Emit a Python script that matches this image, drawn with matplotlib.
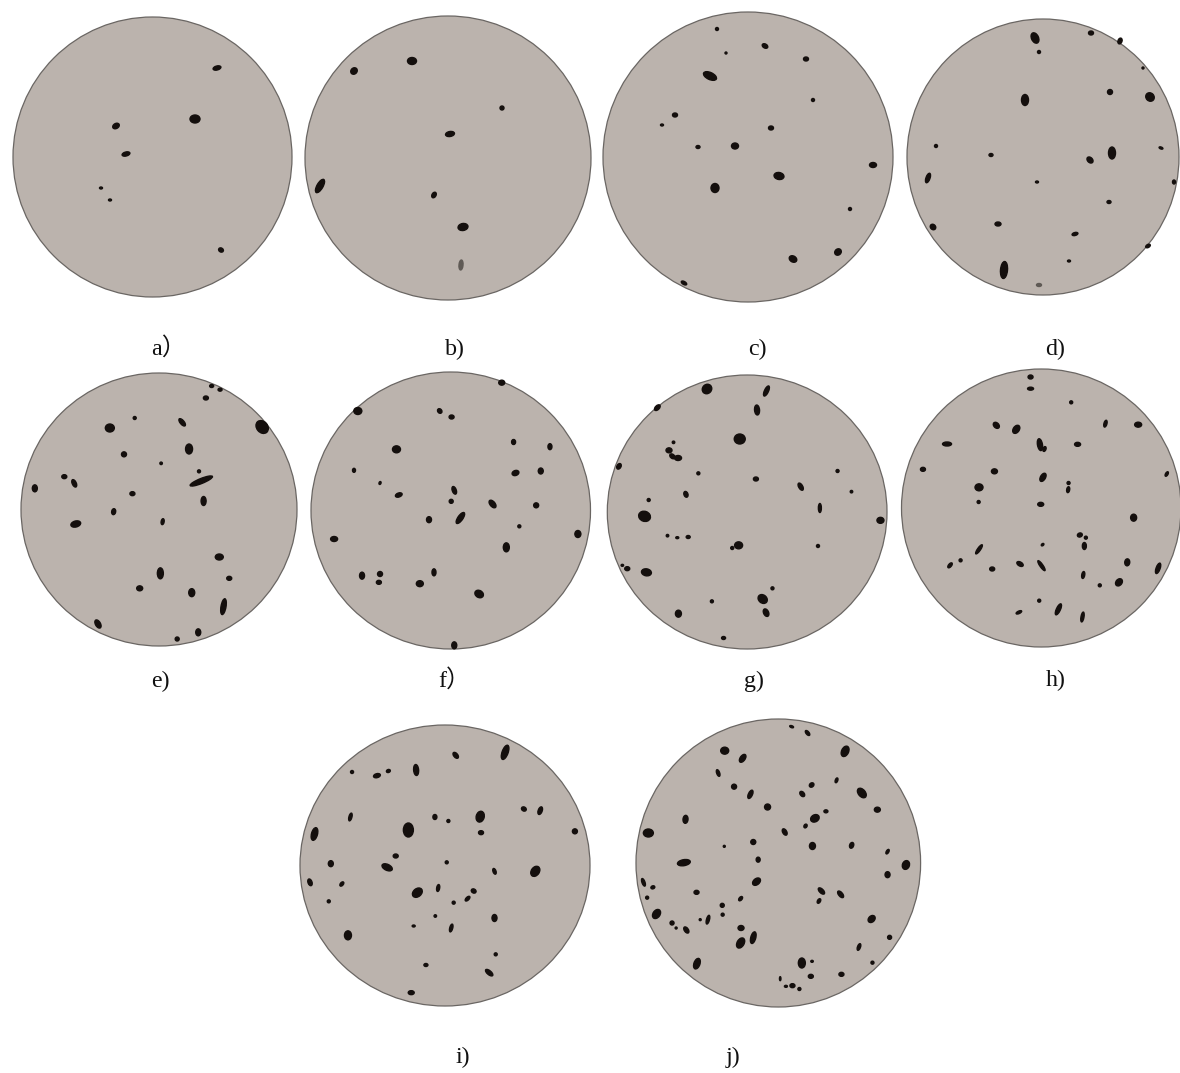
import matplotlib
matplotlib.use("Agg")
import matplotlib.pyplot as plt
from matplotlib.patches import Ellipse

W, H = 1180, 1073
panel_names = ["a）", "b)", "c)", "d)", "e)", "f）", "g)", "h)", "i)", "j)"]
label_xy = [(168, 355), (455, 355), (757, 355), (1055, 355), (160, 687),
            (454, 687), (754, 687), (1056, 686), (463, 1063), (733, 1063)]
disc_bounds = [(13, 292, 17, 297), (305, 591, 16, 300), (603, 893, 12, 302), (907, 1179, 19, 295),
               (21, 297, 373, 646), (311, 590.5, 372, 649), (607.3, 887, 375, 649), (901.5, 1181, 369, 647),
               (300, 590, 725, 1006), (636, 920.6, 719, 1007)]

# spots: x, y, long axis, short axis, angle (degrees counter-clockwise on screen)
a_spots = [(217,68,8,4,15),(116,126,7,5,30),(195,119,10,8,0),(126,154,8,4,15),(101,188,3,2,0),
           (110,200,3,2,0),(221,250,5,4,-30)]
b_spots = [(354,71,7,6,45),(412,61,9,7,0),(502,108,4,4,0),(450,134,9,5,10),(320,186,15,6,60),
           (434,195,6,4,60),(463,227,10,7,10),(461,265,10,4,85)]
c_spots = [(717,29,3,3,0),(765,46,6,4,-30),(806,59,5,4,0),(726,53,2,2,0),(710,76,14,7,-25),(813,100,3,3,0),
           (675,115,5,4,0),(662,125,3,2,0),(771,128,5,4,0),(698,147,4,3,0),(735,146,7,6,0),(779,176,10,7,-10),
           (873,165,7,5,0),(715,188,9,8,90),(850,209,3,3,0),(793,259,8,6,-30),(838,252,7,6,40),(684,283,6,3,-30)]
d_spots = [(1035,38,11,7,-65),(1091,33,5,4,0),(1120,41,6,4,70),(1039,52,3,3,0),(1025,100,11,7,90),(1110,92,5,5,0),
           (1150,97,9,8,-45),(1143,68,2,2,0),(936,146,3,3,0),(991,155,4,3,0),(1090,160,7,5,-45),(1112,153,12,7,90),
           (1161,148,4,2,-20),(928,178,10,4,70),(1037,182,3,2,0),(1174,182,4,3,90),(1109,202,4,3,0),(998,224,6,4,0),
           (933,227,6,5,-45),(1075,234,6,3,15),(1148,246,5,3,30),(1004,270,17,7,85),(1069,261,3,2,0),(1039,285,5,3,0)]
e_spots = [(553,78,4,3,0),(575,89,4,3,0),(538,114,5,4,0),(352,174,3,3,0),(287,204,9,8,0),(476,187,9,4,-50),
           (685,201,14,11,-50),(324,283,5,5,0),(494,267,10,7,90),(421,310,2.5,2.5,0),(520,334,3,3,0),(168,350,5,4,0),
           (194,370,8,4,-65),(91,385,7,5,90),(526,363,24,5,22),(346,401,5,4,0),(532,423,9,5,90),(297,455,6,4,80),
           (198,492,10,6,15),(425,485,6,3,80),(573,591,8,6,0),(419,640,11,6,90),(599,655,5,4,0),(365,685,6,5,0),
           (501,698,8,6,90),(584,740,16,5,80),(256,792,9,5,-60),(518,817,7,5,90),(463,837,4,4,0)]
f_spots = [(1311,68,6,5,0),(935,153,8,7,0),(1149,153,5,4,-50),(1180,171,5,4,0),(1342,246,5,4,90),(1437,260,6,4,90),
           (1036,268,8,7,0),(925,331,4,3,90),(1347,339,7,5,20),(1413,333,6,5,90),(993,369,3,2,70),(1187,391,8,4,-70),
           (1042,405,7,4,20),(1179,424,4,4,0),(1287,432,9,5,-50),(1401,436,5,5,0),(1121,479,6,5,90),(1203,474,13,5,55),
           (1357,499,3,3,0),(1510,522,7,6,90),(873,537,7,5,0),(1323,562,9,6,90),(1134,637,7,4,90),(946,647,7,5,90),
           (993,642,5,5,0),(990,667,5,4,0),(1097,671,7,6,0),(1252,702,9,7,-30),(1187,856,7,5,90)]
g_spots = [(311,87,10,9,45),(469,93,11,4,65),(179,143,7,4,45),(444,150,10,5,95),(398,237,11,10,0),(222,247,2.5,2.5,0),
           (210,271,6,5,0),(219,289,6,4,-40),(234,294,7,5,0),(77,319,6,4,60),(288,340,3,3,0),(441,357,5,4,0),
           (658,333,3,3,0),(560,380,8,4,-60),(695,395,2.5,2.5,0),(255,403,6,4,-70),(156,420,3,3,0),(611,444,9,3,90),
           (145,469,12,10,-20),(772,481,7,6,0),(206,527,2.5,2.5,0),(232,533,3,2,0),(261,531,4,3,0),(395,556,8,7,0),
           (378,564,3,3,0),(606,558,3,3,0),(86,616,2.5,2,0),(99,626,5,4,0),(150,637,10,7,-10),(485,685,3,3,0),
           (459,717,10,8,-40),(324,724,3,3,0),(468,758,8,5,-65),(235,761,7,6,90),(355,834,4,3,0)]
h_spots = [(1171,51,5,4,0),(1171,86,6,3,0),(1279,127,3,3,0),(1080,196,7,5,-45),(1133,208,9,6,55),(1370,191,7,3,75),
           (1457,194,7,5,0),(949,252,9,4,0),(1196,254,12,5,-80),(1208,267,5,3,70),(1296,253,6,4,0),(885,328,5,4,0),
           (1075,334,6,5,0),(1204,352,9,5,60),(1533,342,5,2.5,60),(1034,382,8,7,0),(1272,369,3,3,0),(1271,389,6,3,80),
           (1033,426,3,3,0),(1198,433,6,4,0),(1445,473,7,6,90),(1302,525,5,4,20),(1318,533,3,3,0),(1314,558,7,4,90),
           (1203,554,3,2,40),(1034,568,11,3,55),(985,601,3,3,0),(957,616,6,3,50),(1069,627,5,4,0),(1143,612,7,4,-30),
           (1200,617,12,3,-55),(1428,607,7,5,85),(1510,625,11,4,70),(1311,645,7,3,80),(1355,676,3,3,0),(1406,667,8,6,50),
           (1194,722,3,3,0),(1245,748,12,4,65),(1140,757,6,2.5,25),(1309,771,10,3,80)]
i_spots = [(152,186,3,3,0),(213,197,7,4,15),(241,183,4,3,20),(309,180,11,5,95),(406,136,7,4,-50),(527,127,15,6,70),
           (148,321,8,3,75),(355,321,5,4,90),(388,333,3,3,0),(466,320,11,8,75),(573,297,5,4,-30),(613,302,8,4,70),
           (290,360,14,10,90),(468,368,5,4,0),(60,372,13,6,75),(698,364,5,5,0),(259,438,5,4,0),(100,461,6,5,90),
           (238,472,11,6,-25),(384,457,3,3,0),(501,484,6,3,-70),(601,484,11,8,55),(49,517,7,4,-70),(127,522,5,3,50),
           (363,534,7,3,80),(312,548,11,8,40),(450,543,5,4,-30),(435,566,6,3,45),(401,578,3,3,0),(95,574,3,3,0),
           (356,618,2.5,2.5,0),(303,648,3,2,0),(395,654,8,3,75),(501,624,7,5,90),(142,676,9,7,90),(504,733,3,3,0),
           (333,765,4,3,0),(488,788,9,4,-40),(297,848,6,4,0)]
j_spots = [(1229,50,4,2,-20),(1268,69,6,3,-50),(1065,122,8,7,0),(1109,145,9,5,55),(1360,124,11,7,65),(1049,189,7,3,-70),
           (1088,230,5,5,0),(1128,253,9,4,65),(1278,225,5,4,40),(1339,211,5,2.5,70),(1255,252,6,4,-50),(1401,249,11,7,-50),
           (1170,291,6,6,0),(1439,299,6,5,0),(1313,304,4,3,0),(1286,325,9,7,30),(969,328,8,5,85),(1263,348,4,3,60),
           (878,369,10,8,0),(1212,366,7,4,-60),(1135,396,5,5,0),(1280,408,7,6,90),(1376,406,6,4,70),(1064,409,2,2,0),
           (1464,425,5,2.5,60),(965,458,13,6,10),(1147,449,5,4,90),(1509,465,9,7,70),(1464,494,6,5,90),(866,517,8,3,-70),
           (889,532,4,3,20),(1143,515,9,6,40),(996,547,5,4,0),(1302,543,8,4,-45),(1349,553,8,4,-50),(875,563,3,3,0),
           (1104,566,5,3,50),(1296,573,5,3,60),(1059,586,4,4,0),(1060,614,3,3,0),(898,612,10,7,55),(1024,629,9,3,75),
           (1005,629,2,2,0),(936,639,4,4,-40),(946,654,2,2,0),(971,660,7,4,-55),(1425,627,8,6,45),(1105,654,6,5,0),
           (1135,683,12,5,75),(1104,699,11,7,60),(1469,682,4,4,0),(1394,711,7,3,70),(997,761,11,6,70),(1254,759,10,7,90),
           (1279,754,2.5,2,0),(1427,758,3,3,40),(1276,799,5,4,0),(1351,793,5,4,0),(1201,806,4,1.5,90),(1231,827,5,4,0),
           (1215,829,3,2,0),(1248,837,3,3,0)]

panels = [a_spots, b_spots, c_spots, d_spots, e_spots, f_spots, g_spots, h_spots, i_spots, j_spots]
# crop origin x, origin y, x scale, y scale of the coordinates used for each panel
crops = [(0, 0, 1, 1)] * 4 + [(0, 360, 2.613, 3)] * 2 + [(590, 360, 2.658, 3)] * 2 + [(290, 710, 2.45, 3)] * 2
faded = {(461, 265), (1039, 285)}

fig = plt.figure(figsize=(W / 100, H / 100), dpi=100, facecolor="white")
ax = fig.add_axes([0, 0, 1, 1])
ax.set_xlim(0, W)
ax.set_ylim(H, 0)
ax.axis("off")

for name, (lx, ly), (x0, x1, y0, y1), spots, (ox, oy, sx, sy) in zip(panel_names, label_xy, disc_bounds, panels, crops):
    ax.add_patch(Ellipse(((x0 + x1) / 2, (y0 + y1) / 2), x1 - x0, y1 - y0,
                         facecolor="#bbb3ad", edgecolor="#6a6663", linewidth=0.9))
    for x, y, length, width, angle in spots:
        color = "#5f5a55" if (x, y) in faded else "#140f0d"
        ax.add_patch(Ellipse((ox + x / sx, oy + y / sy), length, width, angle=-angle,
                             facecolor=color, edgecolor=color, linewidth=1.0))
    ax.text(lx, ly, name, ha="center", va="baseline", fontsize=17.3, color="#111111",
            family=["Liberation Serif", "Noto Sans CJK SC"])

fig.savefig("out.png", dpi=100, facecolor="white")
